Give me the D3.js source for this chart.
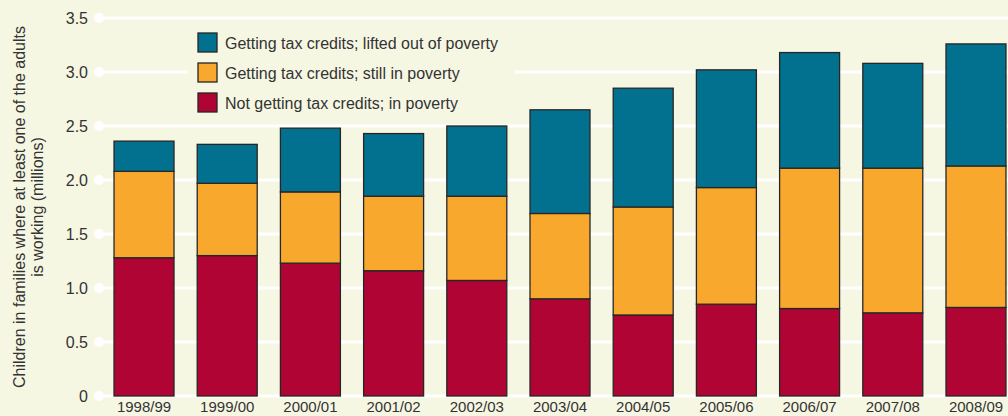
<!DOCTYPE html>
<html lang="en">
<head>
<meta charset="utf-8">
<title>Children in working families in poverty</title>
<script src="https://cdn.jsdelivr.net/npm/d3@7"></script>
<style>
body { margin: 0; background: #f6f7e3; }
svg { display: block; font-family: "Liberation Sans", Arial, sans-serif; }
.tick text { fill: #333; font-size: 16px; }
.x-axis .tick text { font-size: 15px; }
</style>
</head>
<body>
<script>

// values (millions)
var years = ["1998/99", "1999/00", "2000/01", "2001/02", "2002/03", "2003/04",
             "2004/05", "2005/06", "2006/07", "2007/08", "2008/09"];
var notGetting = [1.28, 1.30, 1.23, 1.16, 1.07, 0.90, 0.75, 0.85, 0.81, 0.77, 0.82];
var stillPoor  = [0.80, 0.67, 0.66, 0.69, 0.78, 0.79, 1.00, 1.08, 1.30, 1.34, 1.31];
var liftedOut  = [0.28, 0.36, 0.59, 0.58, 0.65, 0.96, 1.10, 1.09, 1.07, 0.97, 1.13];
var yTicks = [0, 0.5, 1.0, 1.5, 2.0, 2.5, 3.0, 3.5];

var seriesNames = ["Not getting tax credits; in poverty",
                   "Getting tax credits; still in poverty",
                   "Getting tax credits; lifted out of poverty"];
var colors = ["#b00434", "#f9a82e", "#02718f"];

var W = 1008, H = 416;
var margin = {top: 18, right: 0, bottom: 20, left: 99};

var svg = d3.select("body").append("svg")
    .attr("width", W)
    .attr("height", H);

svg.append("rect").attr("width", W).attr("height", H).attr("fill", "#f6f7e3");

var rows = years.map(function(y, i) {
  return {year: y, s0: notGetting[i], s1: stillPoor[i], s2: liftedOut[i]};
});
var stack = d3.stack().keys(["s0", "s1", "s2"])(rows);

var x = d3.scaleBand()
    .domain(years)
    .range([105.7, 1014.3])
    .paddingInner(0.279)
    .paddingOuter(0.1);

var y = d3.scaleLinear()
    .domain([0, 3.5])
    .range([396, 18]);

// gridlines
var grid = svg.append("g");
grid.selectAll("line")
    .data(yTicks)
  .enter().append("line")
    .attr("x1", margin.left)
    .attr("x2", W)
    .attr("y1", function(d) { return y(d); })
    .attr("y2", function(d) { return y(d); })
    .attr("stroke", "#fff")
    .attr("stroke-width", 3);
grid.selectAll("circle")
    .data(yTicks)
  .enter().append("circle")
    .attr("cx", margin.left)
    .attr("cy", function(d) { return y(d); })
    .attr("r", 5)
    .attr("fill", "#fff");

// y axis labels
var yAxis = svg.append("g")
    .attr("transform", "translate(88,0)")
    .call(d3.axisLeft(y).tickValues(yTicks).tickSize(0).tickPadding(0)
      .tickFormat(function(d) { return d === 0 ? "0" : d3.format(".1f")(d); }));
yAxis.select(".domain").remove();
yAxis.selectAll("text").attr("dy", "0.35em");

// legend background hides the gridline beneath it
svg.append("rect")
    .attr("x", 188).attr("y", 26)
    .attr("width", 327).attr("height", 94)
    .attr("fill", "#f6f7e3");

// bars
svg.append("g").selectAll("g")
    .data(stack)
  .enter().append("g")
    .attr("fill", function(d, i) { return colors[i]; })
  .selectAll("rect")
    .data(function(d) { return d; })
  .enter().append("rect")
    .attr("x", function(d) { return x(d.data.year); })
    .attr("y", function(d) { return y(d[1]); })
    .attr("width", x.bandwidth())
    .attr("height", function(d) { return y(d[0]) - y(d[1]); })
    .attr("stroke", "#262626")
    .attr("stroke-width", 1.3);

// x axis labels
var xAxis = svg.append("g")
    .attr("class", "x-axis")
    .attr("transform", "translate(0,401)")
    .call(d3.axisBottom(x).tickSize(0).tickPadding(0));
xAxis.select(".domain").remove();

// y title
var yTitle = svg.append("text")
    .attr("transform", "translate(0,207) rotate(-90)")
    .attr("text-anchor", "middle")
    .attr("fill", "#333")
    .style("font-size", "16px");
yTitle.append("tspan").attr("x", 0).attr("y", 25)
    .text("Children in families where at least one of the adults");
yTitle.append("tspan").attr("x", 0).attr("y", 43)
    .text("is working (millions)");

// legend (top item is the top of the stack)
var legendItems = [2, 1, 0];
var legend = svg.append("g").selectAll("g")
    .data(legendItems)
  .enter().append("g")
    .attr("transform", function(d, i) { return "translate(198," + (33 + i * 30) + ")"; });
legend.append("rect")
    .attr("width", 19).attr("height", 19)
    .attr("fill", function(d) { return colors[d]; })
    .attr("stroke", "#262626")
    .attr("stroke-width", 1.3);
legend.append("text")
    .attr("x", 27).attr("y", 10).attr("dy", "0.35em")
    .attr("fill", "#333")
    .style("font-size", "16px")
    .text(function(d) { return seriesNames[d]; });

</script>
</body>
</html>
